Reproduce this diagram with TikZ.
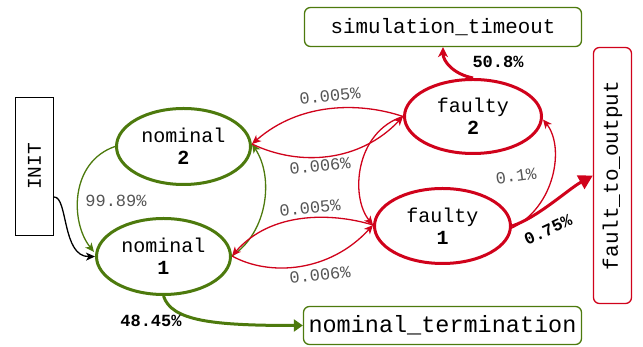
\documentclass[tikz,border=0pt]{standalone}
\usepackage{fontspec}
\setmonofont{Liberation Mono}
\usetikzlibrary{arrows.meta,shapes.geometric,calc}
\definecolor{grn}{HTML}{4D7A0D}
\definecolor{rd}{HTML}{D0021B}
\definecolor{lbl}{HTML}{555555}
\tikzset{
  every node/.style={font=\ttfamily},
  stateN/.style={ellipse, draw=grn, line width=3pt, inner sep=0pt, align=center, font=\ttfamily\fontsize{20}{22}\selectfont},
  stateF/.style={ellipse, draw=rd, line width=3pt, inner sep=0pt, align=center, font=\ttfamily\fontsize{20}{22}\selectfont},
  termbox/.style={rectangle, rounded corners=6pt, line width=1.3pt, inner sep=0pt},
  thinG/.style={draw=grn, line width=1.3pt, -{Stealth[length=9pt,width=8pt,inset=2.5pt]}},
  thinR/.style={draw=rd, line width=1.3pt, -{Stealth[length=9pt,width=8pt,inset=2.5pt]}},
  thickG/.style={draw=grn, line width=3pt, -{Triangle[length=9pt,width=12pt]}},
  thickR/.style={draw=rd, line width=3pt, -{Stealth[length=10pt,width=10pt,inset=3pt]}},
  bigR/.style={draw=rd, line width=3pt, -{Triangle[length=14pt,width=15pt]}},
  plab/.style={text=lbl, font=\ttfamily\fontsize{17}{19}\selectfont, inner sep=0pt},
  blab/.style={text=black, font=\ttfamily\bfseries\fontsize{17}{19}\selectfont, inner sep=0pt}
}
\begin{document}
\begin{tikzpicture}[x=1pt,y=1pt]
\useasboundingbox (0,0) rectangle (643,347);
% INIT
\node[draw=black, line width=1.3pt, minimum width=38pt, minimum height=138pt, inner sep=0pt] (init) at (34.5,180.5) {};
\node[rotate=90, font=\ttfamily\fontsize{19.5}{21}\selectfont] (initt) at (init.center) {INIT};
% states
\node[stateN, minimum width=134pt, minimum height=76pt] (n2) at (183.5,200.5) {nominal\\\textbf{2}};
\node[stateN, minimum width=134pt, minimum height=76pt] (n1) at (163.5,90.5) {nominal\\\textbf{1}};
\node[stateF, minimum width=137pt, minimum height=74pt] (f2) at (473,230.5) {faulty\\\textbf{2}};
\node[stateF, minimum width=136pt, minimum height=75pt] (f1) at (442.5,121) {faulty\\\textbf{1}};
% terminal boxes
\node[termbox, draw=grn, minimum width=277pt, minimum height=39pt, font=\ttfamily\fontsize{20.8}{22}\selectfont] (st) at (443,320) {simulation\_timeout};
\node[termbox, draw=grn, minimum width=278pt, minimum height=38pt, font=\ttfamily\fontsize{23.5}{25}\selectfont] (nt) at (442.5,21.5) {nominal\_termination};
\node[termbox, draw=rd, minimum width=38pt, minimum height=256pt] (fo) at (612.5,171.5) {};
\node[rotate=90, font=\ttfamily\fontsize{21}{23}\selectfont] (fot) at (fo.center) {fault\_to\_output};
% anchor coordinates
\coordinate (initout) at ($(init.east)+(0,-30.5)$);
\coordinate (n1r) at ($(n1.east)+(0,0.5)$);
\coordinate (n2r) at ($(n2.east)+(0,2.5)$);
\coordinate (f1l) at ($(f1.west)+(0,1)$);
\coordinate (f2l) at ($(f2.west)+(0,0)$);
\coordinate (f1r) at ($(f1.east)+(0,-2)$);
\coordinate (f2r) at ($(f2.east)+(0,-3)$);
\coordinate (n1tl) at (94,95);
% INIT -> nominal 1
\draw[line width=1.3pt, -{Stealth[length=9pt,width=8pt,inset=2.5pt]}] (initout) .. controls (68,150) and (62,90) .. (n1.west);
% nominal 2 <-> nominal 1
\draw[thinG] (n2.west) .. controls (70,185) and (70,125) .. (n1tl);
\draw[thinG] (n1r) .. controls (268,115) and (274,170) .. (n2r);
% nominal 1 <-> faulty 1
\draw[thinR] (f1l) .. controls (330,135) and (270,135) .. (n1r);
\draw[thinR] (n1r) .. controls (270,70) and (330,75) .. (f1l);
% nominal 2 <-> faulty 2
\draw[thinR] (f2l) .. controls (360,245) and (300,245) .. (n2r);
\draw[thinR] (n2r) .. controls (300,180) and (360,185) .. (f2l);
% faulty 1 <-> faulty 2
\draw[thinR] (f2l) .. controls (355,215) and (350,150) .. (f1l);
\draw[thinR] (f1r) .. controls (555,140) and (565,200) .. (f2r);
% terminal edges
\draw[thickG] (n1.south) .. controls +(8,-25) and +(-90,0) .. (nt.west);
\draw[thickR] (f2.north) .. controls +(-20,4) and +(0,-14) .. (st.south);
\draw[bigR] (f1.east) .. controls +(25,8) and +(-25,-14) .. (fo.west);
% labels
\node[plab] (l1) at (116,146) {99.89\%};
\node[plab, rotate=6] (l2) at (330,251) {0.005\%};
\node[plab, rotate=6] (l3) at (320,181) {0.006\%};
\node[plab, rotate=6] (l4) at (310,139) {0.005\%};
\node[plab, rotate=6] (l5) at (320,72) {0.006\%};
\node[plab, rotate=8] (l6) at (516,171) {0.1\%};
\node[blab] (l7) at (151,26) {48.45\%};
\node[blab] (l8) at (498,285) {50.8\%};
\node[blab, rotate=25] (l9) at (548,117) {0.75\%};
\end{tikzpicture}
\end{document}
